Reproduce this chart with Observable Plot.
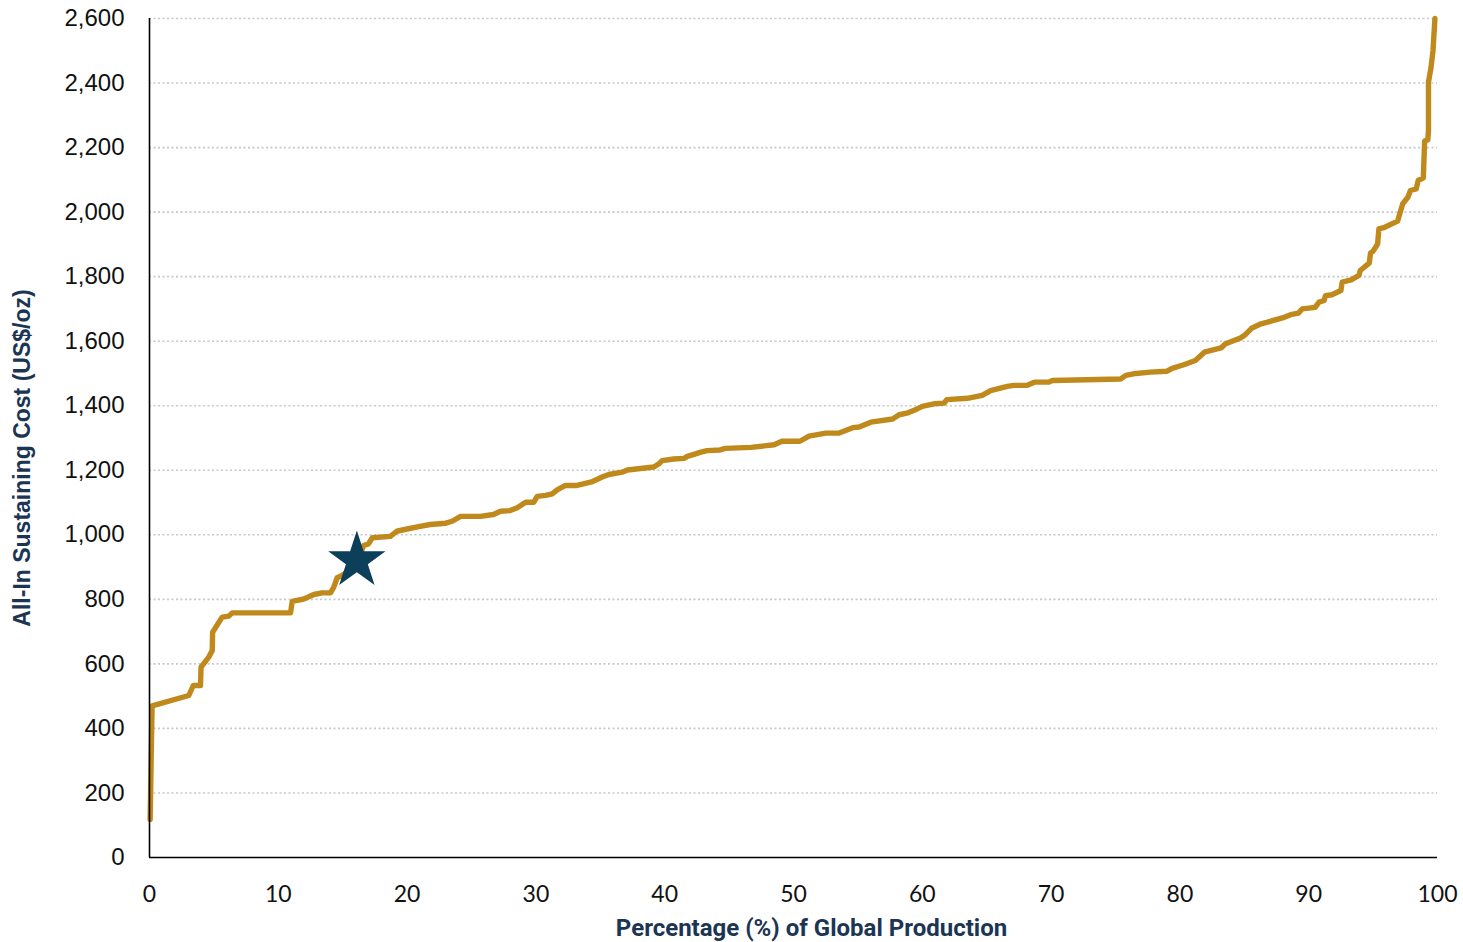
<!DOCTYPE html>
<html>
<head>
<meta charset="utf-8">
<script src="https://cdn.jsdelivr.net/npm/d3@7"></script>
<script src="https://cdn.jsdelivr.net/npm/@observablehq/plot@0.6"></script>
<style>
  html, body { margin: 0; padding: 0; background: #fff; }
  #chart { width: 1463px; height: 942px; }
</style>
</head>
<body>
<div id="chart"></div>
<script>
// Percentage of global production (cumulative)
const pct = [0.05,0.2,3.05,3.4,3.96,4.0,4.6,4.87,4.9,5.64,6.16,6.42,10.95,11.08,11.98,12.76,13.4,14.05,14.3,14.57,14.96,15.8,16.3,16.64,17.0,17.3,18.7,19.2,20.0,21.0,21.8,23.0,23.5,24.15,25.7,26.7,27.25,28.0,28.55,29.2,29.84,30.1,30.75,31.27,31.65,32.3,33.2,34.4,35.15,35.66,36.7,37.1,39.15,39.55,39.8,40.7,41.5,41.75,42.4,42.8,43.3,44.3,44.7,46.7,48.5,49.1,50.5,51.2,52.5,53.5,54.6,55.1,56.0,57.7,58.2,58.8,59.6,60.0,60.9,61.7,61.9,63.5,64.65,65.3,66.6,67.1,68.1,68.7,69.8,70.1,75.4,75.8,76.4,77.7,79.0,79.4,80.3,81.2,81.9,82.2,83.2,83.5,84.7,85.1,85.6,86.3,86.8,88.1,88.6,89.2,89.5,90.5,90.8,91.2,91.3,91.8,92.5,92.6,93.3,93.9,94.0,94.7,94.8,95.0,95.35,95.45,95.9,96.9,97.3,97.7,97.9,98.35,98.5,98.9,99.0,99.25,99.3,99.3,99.5,99.65,99.8];
// All-in sustaining cost (US$/oz)
const aisc = [118,470,502,533,533,590,621,641,698,745,748,758,758,794,801,815,820,820,837,867,874,900,935,967,972,991,995,1011,1018,1026,1032,1036,1042,1057,1057,1063,1073,1075,1084,1101,1101,1119,1122,1127,1139,1153,1153,1165,1179,1187,1194,1201,1210,1220,1230,1235,1237,1243,1251,1256,1261,1263,1268,1271,1279,1290,1290,1306,1315,1315,1332,1334,1349,1359,1372,1377,1390,1398,1406,1408,1419,1423,1432,1447,1460,1463,1463,1473,1473,1478,1483,1494,1499,1504,1507,1516,1527,1540,1566,1569,1579,1591,1610,1621,1641,1654,1659,1674,1682,1687,1700,1705,1721,1726,1741,1744,1757,1783,1790,1804,1819,1842,1873,1879,1901,1948,1953,1972,2026,2046,2067,2072,2098,2106,2220,2224,2253,2403,2449,2500,2600];
// Highlighted asset (star)
const starPct = [16.1];
const starCost = [920];

const yTicks = [0,200,400,600,800,1000,1200,1400,1600,1800,2000,2200,2400,2600];
const xTicks = [0,10,20,30,40,50,60,70,80,90,100];

const curve = pct.map((p, i) => ({x: p, y: aisc[i]}));
const star = starPct.map((p, i) => ({x: p, y: starCost[i]}));

const plot = Plot.plot({
  width: 1463,
  height: 942,
  marginLeft: 149,
  marginRight: 26,
  marginTop: 18,
  marginBottom: 85,
  style: {background: "#fff", overflow: "visible"},
  x: {domain: [0, 100]},
  y: {domain: [0, 2600]},
  marks: [
    Plot.gridY(yTicks.filter(d => d > 0), {stroke: "#c8c8c8", strokeOpacity: 1, strokeWidth: 1.6, strokeDasharray: "2,2.5"}),
    Plot.axisY(yTicks, {
      tickSize: 0, tickPadding: 25, label: null,
      tickFormat: d3.format(","),
      fontSize: 24, fontFamily: "Liberation Sans, Arial, sans-serif", fill: "#111"
    }),
    Plot.axisX(xTicks, {
      tickSize: 0, tickPadding: 28, label: null,
      fontSize: 23, fontFamily: "Lato, 'Open Sans', sans-serif", fill: "#111"
    }),
    Plot.text(["Percentage (%) of Global Production"], {
      frameAnchor: "bottom", dx: 18, dy: 71, fontSize: 24, fontWeight: 700,
      fontFamily: "Roboto, sans-serif", fill: "#1c3553", lineAnchor: "middle", textAnchor: "middle"
    }),
    Plot.text(["All-In Sustaining Cost (US$/oz)"], {
      frameAnchor: "left", dx: -127, dy: 20, rotate: -90, fontSize: 23, fontWeight: 700,
      fontFamily: "Liberation Sans, Arial, sans-serif", fill: "#1c3553", lineAnchor: "middle", textAnchor: "middle"
    }),
    Plot.line(curve, {x: "x", y: "y", stroke: "#c0891c", strokeWidth: 5.4, strokeLinejoin: "round", strokeLinecap: "round"}),
    Plot.ruleX([0], {stroke: "#000", strokeWidth: 1.6}),
    Plot.ruleY([0], {stroke: "#000", strokeWidth: 1.6}),
    Plot.dot(star, {x: "x", y: "y", symbol: "star", r: 18, fill: "#0c3f5a", stroke: "none"})
  ]
});
document.getElementById("chart").appendChild(plot);
</script>
</body>
</html>
